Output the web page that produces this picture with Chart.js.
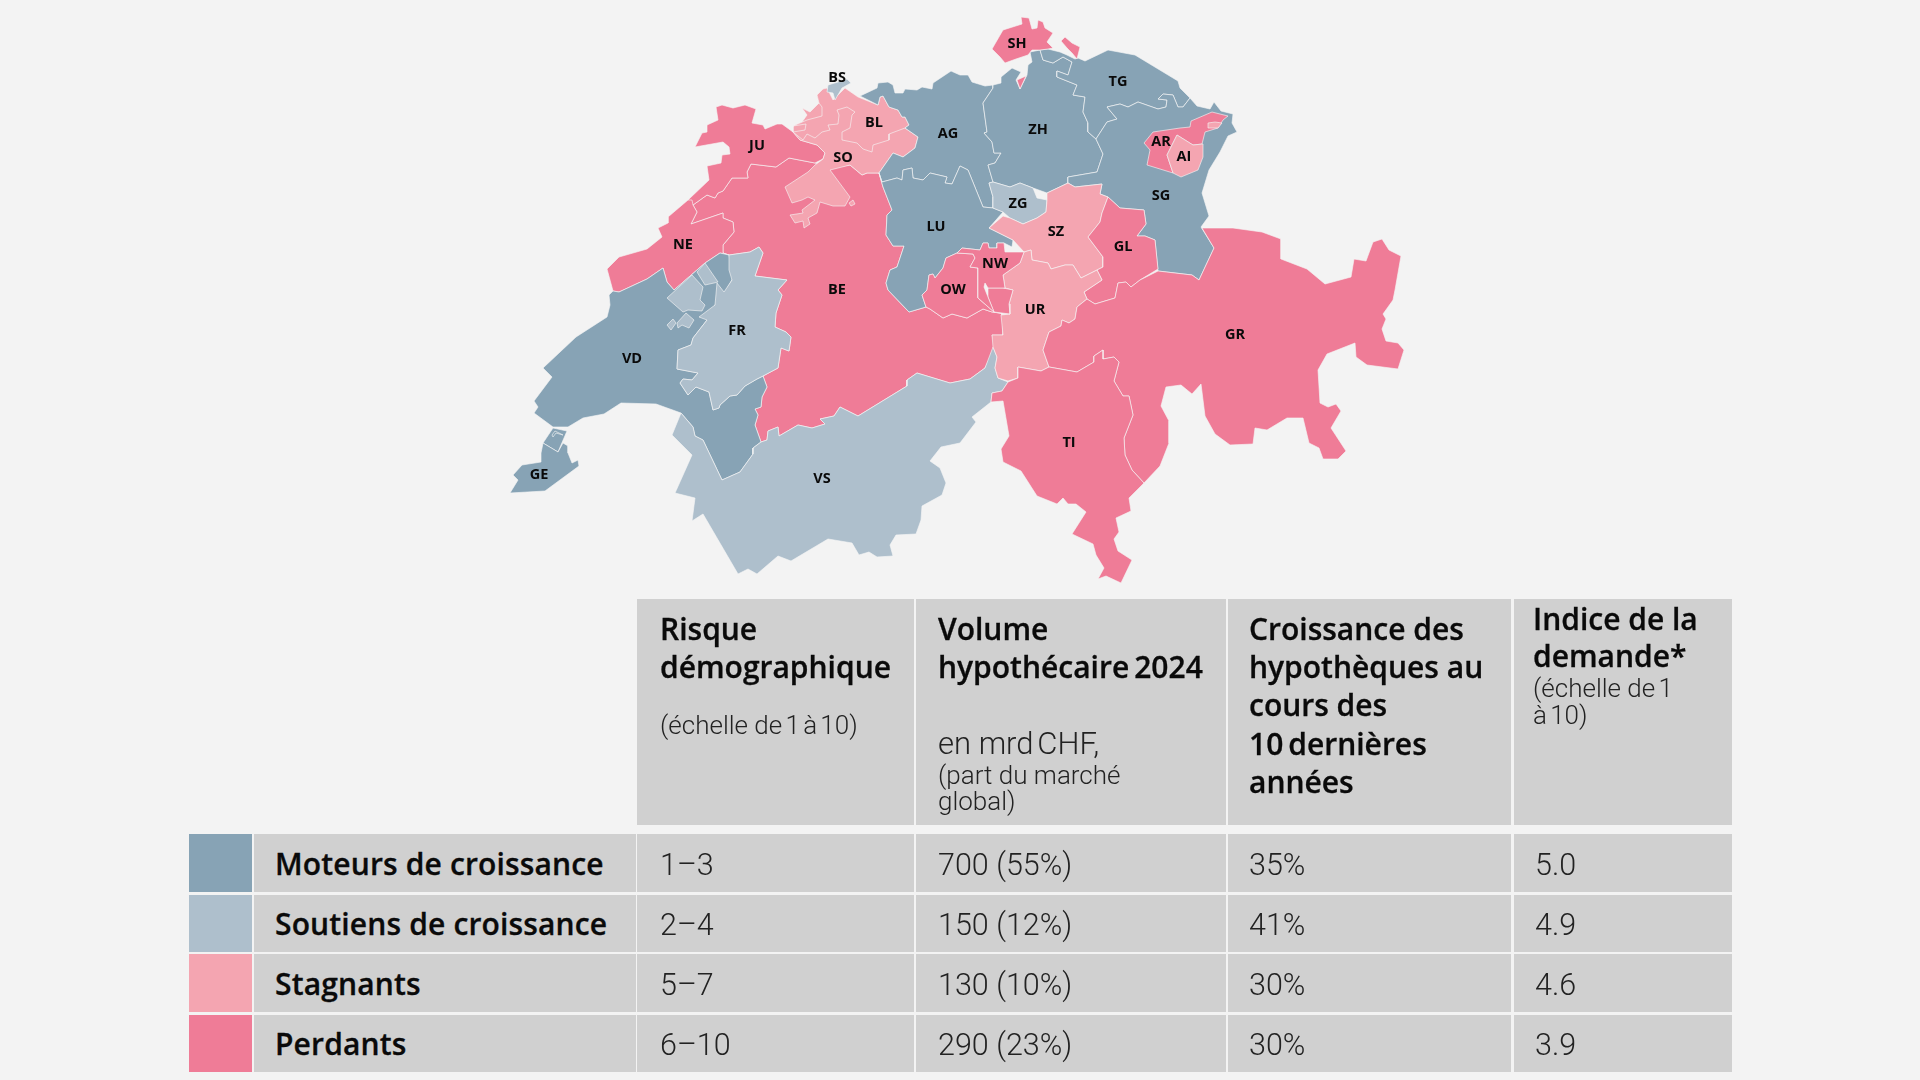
<!DOCTYPE html>
<html lang="fr">
<head>
<meta charset="utf-8">
<title>Cantons</title>
<script src="https://cdn.jsdelivr.net/npm/chart.js@4"></script>
<style>
html,body{margin:0;padding:0;background:#f3f3f3;}
#page{position:relative;width:1920px;height:1080px;overflow:hidden;background:#f3f3f3;font-family:"Open Sans",sans-serif;color:#111;}
#map{position:absolute;left:0;top:0;}
.box{position:absolute;background:#d0d0d0;}
.t{position:absolute;white-space:nowrap;transform:translateY(-50%);transform-origin:left center;}
.head{font-size:30px;font-weight:600;color:#0a0a0a;-webkit-text-stroke:0.3px #0a0a0a;}
.row{font-size:30px;font-weight:600;letter-spacing:0.15px;color:#0a0a0a;-webkit-text-stroke:0.3px #0a0a0a;}
.val{font-family:Roboto,sans-serif;font-size:30.5px;font-weight:300;color:#222;}
.sub{font-family:Roboto,sans-serif;font-size:26px;font-weight:300;color:#222;}
.big{font-family:Roboto,sans-serif;font-size:31px;font-weight:300;color:#222;}
</style>
</head>
<body>
<div id="page"><canvas id="map" width="1920" height="1080"></canvas></div>
<script>
// table
const categories=["Moteurs de croissance","Soutiens de croissance","Stagnants","Perdants"];
const risque=["1–3","2–4","5–7","6–10"];
const volume=["700 (55%)","150 (12%)","130 (10%)","290 (23%)"];
const croissance=["35%","41%","30%","30%"];
const indice=["5.0","4.9","4.6","3.9"];
const colors=["#87a3b5","#aebfcc","#f4a5b1","#ef7c97"];

// cantons per category
const moteurs=["VD","VD2","VD3","GE","AG","LU","ZH","TG","SG"];
const soutiens=["FR","FR2","FR3","FR4","FR5","VS","BS","ZG"];
const stagnants=["SO","SO2","BL","SZ","UR","AI","AI2"];
const perdants=["BE","BE2","BE3","JU","NE","OW","OW2","NW","GL","GR","TI","SH","SH2","SH3","AR"];

// outlines, in map units
const BE=[[693,205],[707,195],[715,198],[718,193],[723,191],[732,178],[748,178],[747,172],[751,164],[776,167],[789,158],[815,163],[830,168],[850,165],[862,175],[867,173],[879,173],[883,187],[892,210],[887,215],[886,235],[893,246],[904,246],[897,267],[890,270],[886,283],[888,290],[909,312],[926,307],[930,309],[943,318],[952,314],[967,318],[983,309],[992,312],[1000,313],[1003,316],[1003,335],[992,335],[995,347],[985,368],[970,379],[960,381],[950,383],[917,373],[907,380],[907,386],[858,416],[840,407],[834,416],[820,419],[825,424],[812,428],[798,425],[779,436],[778,427],[768,431],[767,440],[761,442],[755,425],[758,415],[755,409],[761,407],[762,397],[767,387],[763,376],[778,368],[781,348],[789,351],[791,337],[786,332],[775,327],[776,313],[782,295],[778,290],[787,280],[755,276],[763,253],[759,247],[750,252],[729,255],[723,253],[723,245],[734,232],[733,222],[723,218],[723,213],[691,224],[697,212]];
const BE2=[[735,278],[738,276],[739,279],[736,281]];
const BE3=[[740,274],[744,272],[745,276],[741,277]];
const JU=[[688,200],[709,180],[707,166],[721,163],[722,155],[730,154],[729,147],[723,142],[695,147],[702,133],[707,132],[707,125],[718,120],[716,107],[722,105],[733,108],[745,105],[756,109],[752,123],[763,125],[765,129],[777,124],[782,124],[793,132],[800,140],[817,145],[825,153],[823,159],[815,163],[789,158],[776,167],[751,164],[747,172],[748,178],[732,178],[723,191],[718,193],[715,198],[707,195],[693,205]];
const NE=[[688,200],[668,217],[668,223],[658,228],[662,237],[647,249],[619,257],[607,269],[613,291],[619,292],[647,279],[663,268],[667,282],[674,290],[705,263],[720,253],[729,255],[723,253],[723,245],[734,232],[733,222],[723,218],[723,213],[691,224],[697,212],[693,205],[692,200]];
const VD=[[613,291],[619,292],[647,279],[663,268],[667,282],[674,290],[705,263],[720,253],[729,255],[733,278],[725,292],[715,305],[707,320],[693,338],[691,345],[678,350],[677,369],[698,373],[692,380],[683,379],[680,383],[688,395],[696,387],[709,392],[713,410],[719,408],[720,405],[730,396],[737,395],[745,386],[757,379],[763,376],[767,387],[762,397],[761,407],[755,409],[758,415],[755,425],[761,442],[753,448],[753,454],[740,472],[722,480],[703,440],[695,436],[693,427],[681,413],[656,404],[621,403],[604,414],[583,418],[568,427],[553,427],[534,413],[538,407],[534,401],[552,377],[543,368],[576,337],[607,317],[610,305],[609,295]];
const VD2=[[553,428],[567,431],[558,452],[543,443]];
const VD3=[[552,435],[555,431],[563,435],[556,433],[553,437]];
const GE=[[543,443],[558,452],[563,443],[568,446],[568,453],[572,463],[578,460],[579,466],[545,491],[510,493],[518,480],[513,475],[522,465],[541,462],[541,453]];
const FR=[[729,255],[750,252],[759,247],[763,253],[755,276],[787,280],[778,290],[782,295],[776,313],[775,327],[786,332],[791,337],[789,351],[781,348],[778,368],[763,376],[757,379],[745,386],[737,395],[730,396],[720,405],[719,408],[713,410],[709,392],[696,387],[688,395],[680,383],[683,379],[692,380],[698,373],[677,369],[678,350],[691,345],[693,338],[707,320],[699,317],[715,305],[717,283],[724,292],[732,280],[729,270]];
const FR2=[[667,298],[692,275],[703,287],[700,300],[705,305],[702,311],[688,310],[683,312]];
const FR3=[[697,272],[705,263],[718,282],[714,283],[705,285]];
const FR4=[[667,325],[673,319],[676,323],[671,330]];
const FR5=[[677,323],[686,313],[694,320],[689,328],[682,325],[678,328]];
const VS=[[681,413],[672,435],[692,455],[675,493],[695,498],[692,521],[703,514],[738,574],[748,569],[757,574],[778,556],[791,561],[828,539],[852,543],[859,555],[869,552],[877,557],[893,556],[890,545],[896,535],[916,534],[921,520],[922,506],[942,495],[946,483],[940,468],[930,461],[941,447],[960,443],[976,422],[972,417],[991,402],[992,393],[1002,391],[1008,382],[998,378],[995,368],[997,357],[993,347],[985,368],[970,379],[960,381],[950,383],[917,373],[907,380],[907,386],[858,416],[840,407],[834,416],[820,419],[825,424],[812,428],[798,425],[779,436],[778,427],[768,431],[767,440],[761,442],[753,448],[753,454],[740,472],[722,480],[703,440],[695,436],[693,427]];
const SO=[[793,126],[793,132],[800,140],[817,145],[825,153],[823,159],[815,165],[808,172],[785,187],[792,203],[802,200],[808,197],[815,200],[802,210],[803,213],[790,215],[795,223],[803,221],[804,228],[810,224],[808,218],[817,213],[820,202],[833,206],[845,206],[850,197],[830,170],[850,165],[862,175],[867,173],[879,173],[893,153],[903,157],[915,148],[918,137],[905,128],[909,125],[905,117],[902,117],[898,110],[889,107],[883,96],[880,97],[878,105],[858,97],[845,88],[833,100],[827,88],[823,89],[817,95],[819,103],[810,112],[802,108],[807,115],[802,122]];
const SO2=[[849,203],[853,200],[855,204],[851,206]];
const BL=[[883,96],[889,107],[898,110],[902,117],[905,117],[909,125],[905,128],[889,134],[889,140],[873,145],[872,152],[863,149],[857,143],[842,140],[842,132],[850,128],[852,115],[855,112],[847,107],[837,110],[839,115],[838,124],[828,125],[830,130],[822,132],[815,138],[807,134],[803,140],[793,132],[805,130],[806,124],[793,126],[807,120],[822,116],[822,107],[819,103],[817,95],[823,89],[827,88],[833,100],[845,88],[858,97],[878,105],[880,97]];
const BS=[[828,85],[838,82],[847,79],[851,83],[842,88],[835,100],[833,93],[827,92]];
const AG=[[860,96],[877,88],[878,83],[888,82],[893,85],[895,93],[903,93],[905,89],[917,90],[922,87],[932,89],[933,83],[951,71],[960,75],[968,75],[972,82],[985,86],[993,85],[993,88],[983,103],[987,132],[984,133],[992,142],[994,153],[1001,153],[995,163],[988,165],[993,182],[989,183],[993,197],[993,208],[983,207],[968,170],[960,166],[952,184],[945,183],[947,177],[930,173],[923,180],[913,178],[912,168],[903,170],[902,180],[897,178],[882,182],[879,173],[893,153],[903,157],[915,148],[918,137],[905,128],[909,125],[905,117],[902,117],[898,110],[889,107],[883,96],[880,97],[878,105]];
const LU=[[879,173],[882,182],[897,178],[902,180],[903,170],[912,168],[913,178],[923,180],[930,173],[947,177],[945,183],[952,184],[960,166],[968,170],[983,207],[993,208],[1003,212],[989,228],[1003,235],[1013,240],[1012,247],[1004,243],[997,243],[997,248],[989,248],[988,243],[983,243],[980,250],[962,248],[957,253],[946,258],[943,268],[935,278],[933,274],[929,275],[927,290],[922,295],[926,307],[909,312],[888,290],[886,283],[890,270],[897,267],[904,246],[893,246],[886,235],[887,215],[892,210],[883,187]];
const ZH=[[993,85],[1001,83],[1001,77],[1012,68],[1021,72],[1016,80],[1020,89],[1027,75],[1028,65],[1032,62],[1030,52],[1040,50],[1043,60],[1053,63],[1063,57],[1072,62],[1068,75],[1057,71],[1057,77],[1077,85],[1073,95],[1085,97],[1083,112],[1088,123],[1088,132],[1096,139],[1103,154],[1097,172],[1068,177],[1068,183],[1047,193],[1033,188],[1020,183],[1010,187],[993,182],[988,165],[995,163],[1001,153],[994,153],[992,142],[984,133],[987,132],[983,103],[993,88]];
const TG=[[1078,58],[1085,61],[1108,50],[1135,55],[1178,81],[1180,88],[1190,98],[1183,107],[1178,107],[1173,95],[1163,94],[1158,99],[1167,100],[1166,107],[1158,109],[1138,102],[1128,107],[1120,104],[1107,107],[1117,119],[1107,122],[1096,139],[1088,132],[1088,123],[1083,112],[1085,97],[1073,95],[1077,85],[1057,77],[1057,71],[1068,75],[1072,62],[1063,57],[1053,63],[1043,60],[1040,50],[1048,49],[1060,52],[1067,55],[1075,59]];
const SG=[[1190,98],[1197,106],[1210,109],[1214,102],[1221,111],[1233,114],[1232,123],[1237,132],[1228,136],[1220,152],[1209,170],[1202,193],[1209,216],[1201,227],[1214,248],[1199,280],[1192,275],[1158,271],[1155,240],[1145,236],[1137,236],[1146,224],[1144,210],[1120,208],[1108,197],[1100,194],[1102,184],[1075,187],[1068,183],[1068,177],[1097,172],[1103,154],[1096,139],[1107,122],[1117,119],[1107,107],[1120,104],[1128,107],[1138,102],[1158,109],[1166,107],[1167,100],[1158,99],[1163,94],[1173,95],[1178,107],[1183,107]];
const ZG=[[993,182],[1010,187],[1020,183],[1033,188],[1037,198],[1047,200],[1046,212],[1037,218],[1023,224],[1010,218],[1003,212],[993,208],[993,197],[989,183]];
const SZ=[[1047,193],[1068,183],[1075,187],[1102,184],[1100,194],[1108,197],[1102,213],[1100,222],[1088,237],[1103,257],[1103,267],[1081,278],[1073,265],[1065,265],[1051,269],[1048,263],[1032,260],[1031,250],[1024,252],[1013,240],[1003,235],[989,228],[1003,216],[1010,218],[1023,224],[1037,218],[1046,212],[1047,200]];
const GL=[[1108,197],[1120,208],[1144,210],[1146,224],[1137,236],[1145,236],[1155,240],[1158,269],[1140,280],[1131,287],[1126,282],[1118,283],[1115,298],[1095,304],[1087,299],[1084,292],[1102,280],[1097,270],[1103,267],[1103,257],[1088,237],[1100,222],[1102,213]];
const UR=[[1003,275],[1020,263],[1024,252],[1031,250],[1032,260],[1048,263],[1051,269],[1065,265],[1073,265],[1081,278],[1097,270],[1102,280],[1084,292],[1087,299],[1077,307],[1075,319],[1069,323],[1062,320],[1061,326],[1049,332],[1043,350],[1049,367],[1041,371],[1018,367],[1018,378],[1008,381],[998,378],[995,368],[997,357],[993,347],[992,335],[1003,335],[1001,315],[1010,314],[1009,304],[1013,290],[1005,288]];
const OW=[[957,253],[973,254],[975,258],[970,267],[978,268],[978,298],[994,312],[1000,313],[992,312],[983,309],[967,318],[952,314],[943,318],[930,309],[926,307],[922,295],[927,290],[929,275],[933,274],[935,278],[943,268],[946,258]];
const OW2=[[988,288],[1003,288],[1013,290],[1009,304],[1010,314],[1002,313],[994,312],[988,297]];
const NW=[[957,253],[962,248],[980,250],[983,243],[988,243],[989,248],[997,248],[997,243],[1004,243],[1005,252],[1024,252],[1020,263],[1003,275],[1005,288],[988,288],[985,283],[984,287],[988,297],[994,312],[978,298],[978,268],[970,267],[975,258],[973,254]];
const GR=[[1202,228],[1233,228],[1262,232],[1281,239],[1281,259],[1307,269],[1325,284],[1351,277],[1354,259],[1366,261],[1373,242],[1382,239],[1389,250],[1401,256],[1395,290],[1393,300],[1383,314],[1386,319],[1382,329],[1386,341],[1398,343],[1404,350],[1398,369],[1367,365],[1356,357],[1355,343],[1327,354],[1318,370],[1320,403],[1328,407],[1336,404],[1341,411],[1331,428],[1346,451],[1338,459],[1323,459],[1319,448],[1309,443],[1303,418],[1287,418],[1267,430],[1255,428],[1253,444],[1230,445],[1215,434],[1205,416],[1201,384],[1192,394],[1181,385],[1166,387],[1161,406],[1169,421],[1169,443],[1160,466],[1144,483],[1132,470],[1125,455],[1124,438],[1133,415],[1129,396],[1123,396],[1114,381],[1119,362],[1114,357],[1103,359],[1103,350],[1094,356],[1094,362],[1077,372],[1049,367],[1043,350],[1049,332],[1061,326],[1062,320],[1069,323],[1075,319],[1077,307],[1087,299],[1095,304],[1115,298],[1118,283],[1126,282],[1131,287],[1140,280],[1158,271],[1192,275],[1199,280],[1214,248]];
const TI=[[1018,367],[1041,371],[1049,367],[1077,372],[1094,362],[1094,356],[1103,350],[1103,359],[1114,357],[1119,362],[1114,381],[1123,396],[1129,396],[1133,415],[1124,438],[1125,455],[1132,470],[1144,483],[1129,498],[1131,511],[1116,518],[1119,532],[1114,539],[1118,551],[1132,560],[1121,583],[1106,576],[1098,579],[1104,568],[1096,555],[1093,544],[1072,534],[1086,512],[1076,504],[1068,504],[1063,498],[1057,504],[1037,496],[1021,471],[1003,462],[1001,449],[1009,436],[1003,401],[991,402],[992,393],[1002,391],[1008,382],[1018,378]];
const SH=[[1021,17],[1029,18],[1032,29],[1037,28],[1038,20],[1043,22],[1045,28],[1053,33],[1047,42],[1053,48],[1048,49],[1040,50],[1032,50],[1028,55],[1016,59],[1005,63],[1000,57],[992,49],[1003,30],[1022,24]];
const SH2=[[1065,37],[1072,43],[1080,47],[1077,59],[1072,53],[1067,48],[1061,41]];
const SH3=[[1017,80],[1026,76],[1020,89]];
const AR=[[1228,116],[1212,112],[1191,121],[1190,127],[1180,128],[1153,132],[1144,143],[1150,150],[1147,165],[1173,173],[1167,155],[1177,135],[1193,145],[1202,144],[1205,132],[1218,128],[1223,120]];
const AI=[[1177,135],[1167,155],[1173,173],[1181,177],[1198,170],[1203,157],[1203,144],[1193,145]];
const AI2=[[1208,128],[1208,123],[1215,122],[1222,123],[1218,128]];

const shapes={BE,BE2,BE3,JU,NE,VD,VD2,VD3,GE,FR,FR2,FR3,FR4,FR5,VS,SO,SO2,BL,BS,AG,LU,ZH,TG,SG,ZG,SZ,GL,UR,OW,OW2,NW,GR,TI,SH,SH2,SH3,AR,AI,AI2};

// canton names and where they sit on the map
const cantonNames=["BS","JU","BL","AG","SO","LU","NE","BE","OW","SH","TG","ZH","AR","AI","SG","ZG","SZ","GL","NW","UR","GR","TI","FR","VD","GE","VS"];
const nameX=[837,757,874,948,843,936,683,837,953,1017,1118,1038,1161,1184,1161,1018,1056,1123,995,1035,1235,1069,737,632,539,822];
const nameY=[78,146,123,134,158,227,245,290,290,44,82,130,142,157,196,204,232,247,264,310,335,443,331,359,475,479];

const groups=[moteurs,soutiens,stagnants,perdants];
function colorOf(name){
return colors[groups.findIndex(g=>g.includes(name))];
}

// chart.js paints the first dataset last, so the list is turned round
const datasets=Object.keys(shapes).reverse().map(name=>{
const pts=shapes[name].concat([shapes[name][0]]);
return {
label:name,
data:pts.map(p=>({x:p[0],y:p[1]})),
showLine:true,
fill:"shape",
tension:0,
pointRadius:0,
backgroundColor:colorOf(name),
borderColor:"rgba(245,245,245,0.7)",
borderWidth:0.9
};
});

const cantonLabels={
id:"cantonLabels",
afterDatasetsDraw(chart){
const c=chart.ctx;
c.save();
c.font="700 14.5px 'Open Sans'";
c.fillStyle="#0a0a0a";
c.textAlign="center";
c.textBaseline="middle";
cantonNames.forEach((n,i)=>{
c.fillText(n,chart.scales.x.getPixelForValue(nameX[i]),chart.scales.y.getPixelForValue(nameY[i]));
});
c.restore();
}
};

new Chart(document.getElementById("map"),{
type:"scatter",
data:{datasets},
plugins:[cantonLabels],
options:{
responsive:false,
animation:false,
devicePixelRatio:1,
layout:{padding:0},
plugins:{legend:{display:false},tooltip:{enabled:false}},
scales:{
x:{type:"linear",min:0,max:1920,display:false},
y:{type:"linear",min:0,max:1080,reverse:true,display:false}
}
}
});

// table around the map
const page=document.getElementById("page");
function box(x0,y0,x1,y1,color){
const d=document.createElement("div");
d.className="box";
d.style.cssText=`left:${x0}px;top:${y0}px;width:${x1-x0}px;height:${y1-y0}px;`+(color?`background:${color};`:"");
page.appendChild(d);
}
function text(str,x,y,cls){
const d=document.createElement("div");
d.className="t "+cls;
d.textContent=str;
d.style.left=x+"px";
d.style.top=y+"px";
page.appendChild(d);
}
const colX=[[637,914],[916,1226],[1228,1511],[1514,1732]];
const rowY=[[834,892],[895,952],[954,1012],[1015,1072]];
const textX=[660,938,1249,1533];
const rowMid=[863,923,983,1043];
colX.forEach(c=>box(c[0],599,c[1],825));
rowY.forEach((r,i)=>{
box(189,r[0],252,r[1],colors[i]);
box(254,r[0],636,r[1]);
colX.forEach(c=>box(c[0],r[0],c[1],r[1]));
text(categories[i],275,rowMid[i],"row");
text(risque[i],textX[0],rowMid[i]+1,"val");
text(volume[i],textX[1],rowMid[i]+1,"val");
text(croissance[i],textX[2],rowMid[i]+1,"val");
text(indice[i],textX[3]+2,rowMid[i]+1,"val");
});
text("Risque",textX[0],628,"head");
text("démographique",textX[0],666,"head");
text("(échelle de\u20091\u2009à\u200910)",textX[0],725,"sub");
text("Volume",textX[1],628,"head");
text("hypothécaire\u20092024",textX[1],666,"head");
text("en mrd\u2009CHF,",textX[1],743,"big");
text("(part du marché",textX[1],775,"sub");
text("global)",textX[1],801,"sub");
["Croissance des","hypothèques au","cours des","10\u2009dernières","années"].forEach((s,i)=>{
text(s,textX[2],[628,666,704,743,781][i],"head");
});
text("Indice de la",textX[3],618,"head");
text("demande*",textX[3],655,"head");
text("(échelle de\u20091",textX[3],688,"sub");
text("à\u200910)",textX[3],715,"sub");
</script>
</body>
</html>
